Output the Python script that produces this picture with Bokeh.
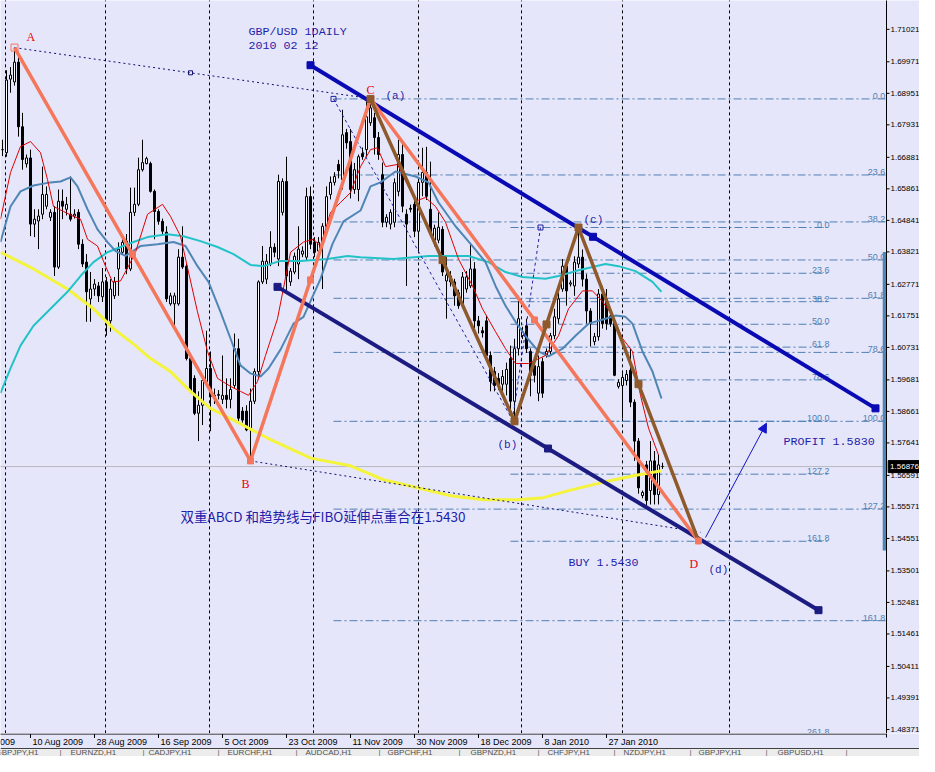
from bokeh.plotting import figure
from bokeh.models import Range1d, Arrow, NormalHead
from bokeh.layouts import column
from bokeh.embed import file_html
from bokeh.resources import INLINE
from bokeh.core.properties import value

# ---------------- data (GBP/USD daily, bar index 0 = 2 Aug 2009) ----------------
bar_idx = list(range(166))
opens = [1.6713,1.6703,1.6941,1.6932,1.6996,1.6787,1.6667,1.6686,1.6472,1.6482,
         1.6504,1.6530,1.6494,1.6510,1.6333,1.6546,1.6520,1.6504,1.6498,1.6510,
         1.6407,1.6349,1.6230,1.6262,1.6272,1.6237,1.6285,1.6159,1.6240,1.6327,
         1.6381,1.6417,1.6327,1.6510,1.6536,1.6648,1.6668,1.6668,1.6578,1.6513,
         1.6481,1.6446,1.6214,1.6214,1.6214,1.6365,1.6336,1.6037,1.5973,1.5860,
         1.5886,1.5963,1.6005,1.5918,1.5918,1.5905,1.5918,1.5905,1.5950,1.6069,
         1.5867,1.5867,1.5806,1.5899,1.5995,1.6285,1.6294,1.6343,1.6397,1.6359,
         1.6510,1.6610,1.6285,1.6317,1.6343,1.6375,1.6365,1.6561,1.6413,1.6385,
         1.6407,1.6465,1.6568,1.6607,1.6665,1.6616,1.6768,1.6739,1.6584,1.6584,
         1.6700,1.6713,1.6800,1.6816,1.6752,1.6632,1.6478,1.6472,1.6478,1.6578,
         1.6697,1.6504,1.6523,1.6536,1.6449,1.6607,1.6639,1.6520,1.6420,1.6420,
         1.6455,1.6288,1.6304,1.6285,1.6250,1.6214,1.6262,1.6272,1.6327,1.6159,
         1.6127,1.6159,1.6047,1.5995,1.5973,1.5954,1.5954,1.6037,1.5899,1.6069,
         1.6111,1.6143,1.6060,1.6014,1.5925,1.6027,1.6047,1.6060,1.6111,1.6166,
         1.6262,1.6336,1.6278,1.6272,1.6343,1.6365,1.6294,1.6191,1.6092,1.6108,
         1.6246,1.6230,1.6175,1.6156,1.5947,1.5950,1.5966,1.5999,1.5896,1.5770,
         1.5594,1.5693,1.5610,1.5706,1.5597,1.5688]
highs = [1.6745,1.6970,1.6980,1.7043,1.7030,1.6832,1.6697,1.6713,1.6520,1.6520,
         1.6658,1.6594,1.6520,1.6530,1.6584,1.6584,1.6560,1.6626,1.6520,1.6520,
         1.6423,1.6375,1.6317,1.6294,1.6285,1.6330,1.6301,1.6294,1.6301,1.6413,
         1.6430,1.6440,1.6590,1.6590,1.6687,1.6745,1.6690,1.6674,1.6584,1.6520,
         1.6490,1.6465,1.6250,1.6250,1.6391,1.6465,1.6343,1.6050,1.5983,1.5931,
         1.5973,1.6127,1.6060,1.5940,1.5935,1.6047,1.5973,1.5973,1.6118,1.6101,
         1.5880,1.5886,1.5940,1.6005,1.6290,1.6401,1.6375,1.6449,1.6410,1.6632,
         1.6620,1.6690,1.6330,1.6380,1.6465,1.6400,1.6590,1.6594,1.6430,1.6430,
         1.6475,1.6594,1.6626,1.6640,1.6680,1.6842,1.6780,1.6780,1.6670,1.6697,
         1.6720,1.6874,1.6877,1.6832,1.6770,1.6671,1.6504,1.6520,1.6620,1.6745,
         1.6735,1.6520,1.6535,1.6550,1.6620,1.6719,1.6722,1.6674,1.6470,1.6510,
         1.6465,1.6368,1.6320,1.6295,1.6260,1.6317,1.6320,1.6407,1.6349,1.6175,
         1.6140,1.6175,1.6060,1.6010,1.5990,1.6000,1.6024,1.6079,1.6101,1.6240,
         1.6140,1.6166,1.6070,1.6030,1.6047,1.6040,1.6070,1.6120,1.6198,1.6250,
         1.6359,1.6349,1.6290,1.6368,1.6461,1.6390,1.6310,1.6200,1.6120,1.6262,
         1.6272,1.6262,1.6190,1.6166,1.5970,1.5990,1.6000,1.6069,1.5905,1.5780,
         1.5610,1.5706,1.5770,1.5738,1.5725,1.5700]
lows = [1.6692,1.6690,1.6897,1.6920,1.6755,1.6648,1.6655,1.6433,1.6430,1.6391,
        1.6488,1.6520,1.6482,1.6304,1.6327,1.6488,1.6500,1.6481,1.6490,1.6391,
        1.6333,1.6156,1.6156,1.6240,1.6220,1.6220,1.6111,1.6124,1.6230,1.6240,
        1.6375,1.6310,1.6320,1.6498,1.6530,1.6642,1.6665,1.6574,1.6423,1.6470,
        1.6440,1.6220,1.6208,1.6134,1.6208,1.6327,1.6031,1.5925,1.5854,1.5770,
        1.5822,1.5950,1.5802,1.5890,1.5905,1.5890,1.5876,1.5876,1.5940,1.5835,
        1.5830,1.5802,1.5706,1.5890,1.5973,1.6278,1.6278,1.6336,1.6365,1.6336,
        1.6500,1.6253,1.6272,1.6310,1.6294,1.6365,1.6355,1.6391,1.6365,1.6375,
        1.6262,1.6455,1.6552,1.6597,1.6620,1.6584,1.6716,1.6555,1.6570,1.6546,
        1.6680,1.6690,1.6790,1.6697,1.6680,1.6462,1.6462,1.6455,1.6462,1.6562,
        1.6510,1.6272,1.6510,1.6430,1.6382,1.6562,1.6550,1.6440,1.6400,1.6410,
        1.6304,1.6166,1.6270,1.6208,1.6198,1.6200,1.6250,1.6265,1.6134,1.6118,
        1.6105,1.6027,1.5931,1.5931,1.5935,1.5931,1.5918,1.5854,1.5834,1.6047,
        1.6100,1.6055,1.5915,1.5960,1.5899,1.5910,1.6040,1.6050,1.6100,1.6150,
        1.6253,1.6208,1.6270,1.6240,1.6330,1.6270,1.6150,1.6076,1.6080,1.6095,
        1.6134,1.6130,1.6140,1.5980,1.5940,1.5844,1.5950,1.5880,1.5706,1.5600,
        1.5585,1.5562,1.5565,1.5565,1.5565,1.5680]
closes = [1.6713,1.6938,1.6954,1.6996,1.6787,1.6681,1.6686,1.6472,1.6488,1.6498,
          1.6568,1.6568,1.6510,1.6333,1.6546,1.6530,1.6536,1.6488,1.6504,1.6407,
          1.6343,1.6253,1.6262,1.6278,1.6240,1.6285,1.6159,1.6262,1.6285,1.6391,
          1.6413,1.6327,1.6510,1.6536,1.6648,1.6671,1.6684,1.6578,1.6513,1.6481,
          1.6449,1.6230,1.6240,1.6240,1.6365,1.6333,1.6037,1.5931,1.5860,1.5886,
          1.5966,1.6005,1.5915,1.5915,1.5921,1.5918,1.5905,1.5937,1.6069,1.5844,
          1.5838,1.5806,1.5899,1.5995,1.6285,1.6352,1.6352,1.6397,1.6381,1.6610,
          1.6610,1.6304,1.6320,1.6368,1.6391,1.6385,1.6561,1.6407,1.6381,1.6413,
          1.6465,1.6561,1.6607,1.6626,1.6645,1.6761,1.6735,1.6584,1.6648,1.6690,
          1.6690,1.6819,1.6848,1.6752,1.6697,1.6478,1.6494,1.6510,1.6606,1.6697,
          1.6530,1.6472,1.6520,1.6449,1.6607,1.6639,1.6562,1.6446,1.6459,1.6462,
          1.6317,1.6307,1.6285,1.6240,1.6208,1.6301,1.6301,1.6327,1.6159,1.6143,
          1.6120,1.6047,1.5963,1.5950,1.5950,1.5979,1.6002,1.5899,1.6069,1.6166,
          1.6124,1.6069,1.5983,1.5983,1.6011,1.5925,1.6060,1.6111,1.6172,1.6230,
          1.6336,1.6256,1.6282,1.6349,1.6365,1.6294,1.6191,1.6150,1.6108,1.6246,
          1.6150,1.6150,1.6150,1.5983,1.5960,1.5976,1.5986,1.5896,1.5770,1.5619,
          1.5604,1.5578,1.5706,1.5597,1.5693,1.5688]

date_tick_idx = [-9, 7, 23, 39, 55, 71, 87, 103, 119, 135, 151]
date_tick_lbl = ["22 Jul 2009", "10 Aug 2009", "28 Aug 2009", "16 Sep 2009", "5 Oct 2009",
                 "23 Oct 2009", "11 Nov 2009", "30 Nov 2009", "18 Dec 2009", "8 Jan 2010",
                 "27 Jan 2010"]
month_idx = [0.75, 25.75, 51.75, 77.75, 104, 129.75, 155, 181.75]
price_ticks = [1.71021, 1.69971, 1.68951, 1.67931, 1.66881, 1.65861, 1.64841, 1.63821,
               1.62771, 1.61751, 1.60731, 1.59681, 1.58661, 1.57641, 1.56591, 1.55571,
               1.54551, 1.53501, 1.52481, 1.51461, 1.50411, 1.49391, 1.48371]
price_tick_lbl = ["%.5f" % v for v in price_ticks]
last_price = 1.56876

# moving averages
ma_red_x = [-0.5, 2, 4.5, 7, 9.5, 11.25, 12.75, 15.25, 17.75, 19.5, 21.25, 23.75, 25.75, 27.5,
            29.5, 31.5, 33.25, 36.25, 40, 42, 44.5, 46.5, 48.75, 51.25, 53.75, 57, 59.5, 61.5,
            63.75, 65.75, 68.75, 72, 75.25, 77.75, 79.5, 82, 84.5, 87, 89.5, 92, 93.75, 95.75,
            98.75, 103.25, 105.75, 108.25, 110.75, 114, 117.5, 120, 123.25, 125.75, 128.25,
            131.5, 135.75, 139, 141.5, 145, 147.5, 150, 152.5, 155, 157.5, 159.5, 161.5, 164]
ma_red_y = [1.6488, 1.6639, 1.6723, 1.6739, 1.6703, 1.6616, 1.6529, 1.6513, 1.6497, 1.6488,
            1.6423, 1.6401, 1.6336, 1.6285, 1.6288, 1.6336, 1.6381, 1.6504, 1.6536, 1.6497,
            1.6433, 1.6317, 1.6188, 1.6060, 1.5973, 1.5947, 1.5931, 1.5918, 1.5963, 1.6047,
            1.6166, 1.6381, 1.6414, 1.6423, 1.6401, 1.6510, 1.6542, 1.6574, 1.6658, 1.6713,
            1.6719, 1.6658, 1.6665, 1.6546, 1.6558, 1.6529, 1.6478, 1.6359, 1.6272, 1.6198,
            1.6124, 1.6069, 1.6021, 1.6021, 1.6047, 1.6111, 1.6198, 1.6256, 1.6256, 1.6221,
            1.6176, 1.6102, 1.6060, 1.5918, 1.5812, 1.5725]
ma_blue_x = [-0.5, 2, 4.5, 7.75, 12, 14.5, 17, 18.75, 21.25, 23.75, 26.25, 28.25, 30.75, 34.5,
             38.75, 42.75, 45.75, 48.75, 51.5, 54.5, 57, 59.5, 62, 64.5, 66.5, 69.5, 72.75,
             75.25, 79.5, 82.5, 85.25, 89.5, 92, 94.5, 98.25, 103.25, 106.5, 109, 113.25,
             117.5, 120.75, 123.25, 125.75, 128.25, 131.25, 134, 136.5, 140, 143.25, 146.5,
             150.75, 153.25, 155.75, 157.5, 160, 162.5, 164.75]
ma_blue_y = [1.6414, 1.6529, 1.6578, 1.6597, 1.6607, 1.6610, 1.6623, 1.6594, 1.6520, 1.6455,
             1.6414, 1.6385, 1.6369, 1.6401, 1.6407, 1.6414, 1.6401, 1.6336, 1.6285, 1.6188,
             1.6102, 1.6015, 1.5989, 1.5979, 1.6005, 1.6066, 1.6150, 1.6172, 1.6295, 1.6408,
             1.6481, 1.6516, 1.6594, 1.6607, 1.6642, 1.6626, 1.6607, 1.6542, 1.6465, 1.6401,
             1.6349, 1.6272, 1.6208, 1.6156, 1.6102, 1.6060, 1.6044, 1.6069, 1.6111, 1.6150,
             1.6166, 1.6176, 1.6172, 1.6150, 1.6060, 1.5995, 1.5908]
ma_cyan_x = [-0.5, 2, 4.5, 7.75, 12, 16.25, 19.5, 22.75, 26.25, 29.5, 32.75, 36.25, 41.25,
             45.25, 49.5, 53.75, 57.75, 62, 65.25, 69.5, 74.5, 81.25, 86.25, 89.5, 97.75,
             106.5, 116.5, 121.5, 125.75, 130, 135.75, 139, 143.25, 147.5, 150.75, 154,
             158.25, 162.5, 164.75]
ma_cyan_y = [1.5925, 1.6005, 1.6079, 1.6143, 1.6198, 1.6253, 1.6304, 1.6349, 1.6381, 1.6398,
             1.6414, 1.6430, 1.6439, 1.6433, 1.6417, 1.6398, 1.6375, 1.6340, 1.6336, 1.6353,
             1.6353, 1.6359, 1.6369, 1.6365, 1.6359, 1.6369, 1.6369, 1.6349, 1.6317, 1.6301,
             1.6295, 1.6304, 1.6320, 1.6333, 1.6343, 1.6336, 1.6320, 1.6285, 1.6253]
ma_yellow_x = [-0.5, 7.75, 16.25, 22.75, 27.75, 33.25, 37, 42, 47, 52, 57.75, 66.25, 77, 87,
               95.25, 103.75, 112, 120.25, 128.75, 135.25, 141.25, 149.5, 157.75, 164.75]
ma_yellow_y = [1.6381, 1.6327, 1.6262, 1.6198, 1.6134, 1.6079, 1.6037, 1.5995, 1.5931, 1.5876,
               1.5838, 1.5780, 1.5715, 1.5690, 1.5645, 1.5619, 1.5593, 1.5580, 1.5580, 1.5587,
               1.5609, 1.5635, 1.5658, 1.5674]

# drawn objects (anchors as bar index / price)
abcd_x = [3, 62, 92, 174]
abcd_y = [1.7043, 1.5706, 1.6877, 1.5447]
abcd2_x = [92, 128, 144, 174]
abcd2_y = [1.6877, 1.5834, 1.6461, 1.5447]
chan_up_x = [77, 218.25]
chan_up_y = [1.6986, 1.5876]
chan_lo_x = [68.75, 204]
chan_lo_y = [1.6269, 1.5223]
dash_ac_x = [3, 91]
dash_ac_y = [1.7043, 1.6880]
dash_bd_x = [62, 174.5]
dash_bd_y = [1.5706, 1.5475]
thin_1_x = [82.75, 127.5]
thin_1_y = [1.6877, 1.5838]
thin_2_x = [127.5, 134.5]
thin_2_y = [1.5838, 1.6461]
fib1_start, fib1_end = 82.75, 221.0
fib1_lbl = ["0.0", "23.6", "38.2", "50.0", "61.8", "78.6", "100.0", "127.2", "161.8"]
fib1_px = [1.6877, 1.6631, 1.6479, 1.6356, 1.6232, 1.6057, 1.5834, 1.5550, 1.5189]
fib2_start, fib2_end = 127.0, 206.75
fib2_lbl = ["0.0", "23.6", "38.2", "50.0", "61.8", "78.6", "100.0", "127.2", "161.8", "261.8"]
fib2_px = [1.6461, 1.6313, 1.6221, 1.6148, 1.6074, 1.5968, 1.5834, 1.5663, 1.5446, 1.4820]
profit_arrow = (175.75, 1.5458, 191.0, 1.5828)
side_bar_y = (1.6382, 1.5416)
tabs = ["GBPJPY,H1", "EURNZD,H1", "CADJPY,H1", "EURCHF,H1", "AUDCAD,H1", "GBPCHF,H1",
        "GBPNZD,H1", "CHFJPY,H1", "NZDJPY,H1", "GBPJPY,H1", "GBPUSD,H1"]

# ---------------- main chart ----------------
BG = "#E6E6FA"
XR = Range1d(-0.5, 229.25)          # 4 px per bar over 919 px
AXIS_X = 221.0                      # price-scale line position (bar units)
p = figure(width=919, height=733, x_range=XR, y_range=Range1d(1.48241, 1.71954),
           output_backend="svg", toolbar_location=None, x_axis_location=None,
           y_axis_location=None, min_border=0)
p.background_fill_color = BG
p.border_fill_color = BG
p.outline_line_color = None
p.grid.visible = False

# month separators
p.segment(x0=month_idx, x1=month_idx, y0=[1.3] * len(month_idx), y1=[1.8] * len(month_idx),
          line_color="black", line_width=1, line_dash="3 3")

# fibonacci levels
FIB = "#4F7FB3"
n1 = len(fib1_px)
p.segment(x0=[fib1_start] * n1, x1=[fib1_end] * n1, y0=fib1_px, y1=fib1_px,
          line_color=FIB, line_width=1, line_dash="8 3 2 3")
p.text(x=[AXIS_X - 0.3] * n1, y=fib1_px, text=fib1_lbl, text_align="right", text_baseline="bottom",
       text_font=value("Liberation Sans"), text_font_size="9px", text_color=FIB)
n2 = len(fib2_px)
p.segment(x0=[fib2_start] * n2, x1=[fib2_end] * n2, y0=fib2_px, y1=fib2_px,
          line_color=FIB, line_width=1, line_dash="8 3 2 3")
p.text(x=[fib2_end] * n2, y=fib2_px, text=fib2_lbl, text_align="right", text_baseline="bottom",
       text_font=value("Liberation Sans"), text_font_size="9px", text_color=FIB)

# current price line
p.segment(x0=[-1], x1=[AXIS_X], y0=[last_price], y1=[last_price], line_color="#B8B8C0", line_width=1)

# candles
body_top = [max(o, c) for o, c in zip(opens, closes)]
body_bot = [min(o, c) for o, c in zip(opens, closes)]
body_fill = ["white" if c >= o else "black" for o, c in zip(opens, closes)]
p.segment(x0=bar_idx, x1=bar_idx, y0=lows, y1=highs, line_color="black", line_width=1)
p.vbar(x=bar_idx, width=0.5, top=body_top, bottom=body_bot, fill_color=body_fill,
       line_color="black", line_width=1)

# moving averages
p.line(ma_yellow_x, ma_yellow_y, line_color="#F4F43C", line_width=3)
p.line(ma_cyan_x, ma_cyan_y, line_color="#22C3C8", line_width=2)
p.line(ma_blue_x, ma_blue_y, line_color="#4F86B5", line_width=2)
p.line(ma_red_x, ma_red_y, line_color="#E00000", line_width=1)

# dashed helper lines
NAVY_T = "#101070"
p.line(dash_ac_x, dash_ac_y, line_color=NAVY_T, line_width=1, line_dash="2 3")
p.line(dash_bd_x, dash_bd_y, line_color=NAVY_T, line_width=1, line_dash="2 3")
p.line(thin_1_x, thin_1_y, line_color="#2020A0", line_width=1, line_dash="3 3")
p.line(thin_2_x, thin_2_y, line_color="#2020A0", line_width=1, line_dash="3 3")
p.scatter([(dash_ac_x[0] + dash_ac_x[1]) / 2], [(dash_ac_y[0] + dash_ac_y[1]) / 2],
          marker="square", size=4, fill_color=None, line_color=NAVY_T)
p.scatter([thin_1_x[0], thin_2_x[1]], [thin_1_y[0], thin_2_y[1]], marker="square", size=5,
          fill_color=None, line_color="#2020A0")

# channels
UP = "#0A0AB4"
LO = "#1B1B82"
p.line(chan_up_x, chan_up_y, line_color=UP, line_width=4)
p.line(chan_lo_x, chan_lo_y, line_color=LO, line_width=4)
p.scatter([chan_up_x[0], sum(chan_up_x) / 2, chan_up_x[1]],
          [chan_up_y[0], sum(chan_up_y) / 2, chan_up_y[1]], marker="square", size=7,
          fill_color=UP, line_color=UP)
p.scatter([chan_lo_x[0], sum(chan_lo_x) / 2, chan_lo_x[1]],
          [chan_lo_y[0], sum(chan_lo_y) / 2, chan_lo_y[1]], marker="square", size=7,
          fill_color=LO, line_color=LO)

# ABCD zigzags
SAL = "#F5775B"
BRN = "#8E5A2C"
p.line(abcd_x, abcd_y, line_color=SAL, line_width=3.5)
p.line(abcd2_x, abcd2_y, line_color=BRN, line_width=3.5)
mid_sx = [(abcd_x[k] + abcd_x[k + 1]) / 2 for k in range(3)]
mid_sy = [(abcd_y[k] + abcd_y[k + 1]) / 2 for k in range(3)]
p.scatter(mid_sx + abcd_x[1:2] + abcd_x[3:], mid_sy + abcd_y[1:2] + abcd_y[3:], marker="square",
          size=6, fill_color=SAL, line_color=SAL)
p.scatter(abcd_x[:1], abcd_y[:1], marker="square", size=7, fill_color=None, line_color=SAL)
mid_bx = [(abcd2_x[k] + abcd2_x[k + 1]) / 2 for k in range(3)]
mid_by = [(abcd2_y[k] + abcd2_y[k + 1]) / 2 for k in range(3)]
p.scatter(mid_bx + abcd2_x[:3], mid_by + abcd2_y[:3], marker="square", size=7,
          fill_color=BRN, line_color=BRN)

# profit arrow
p.add_layout(Arrow(end=NormalHead(size=9, fill_color="#1414C8", line_color="#1414C8"),
                   x_start=profit_arrow[0], y_start=profit_arrow[1],
                   x_end=profit_arrow[2], y_end=profit_arrow[3],
                   line_color="#1414C8", line_width=1))

# texts
TXT = "#1E1EAA"
p.text(x=[61.5, 61.5, 141.5, 195.25], y=[1.70924, 1.70490, 1.53759, 1.57668],
       text=["GBP/USD 1DAILY", "2010 02 12", "BUY  1.5430", "PROFIT 1.5830"],
       text_font=value("Liberation Mono"), text_font_size="11.7px", text_color=TXT,
       text_align="left", text_baseline="middle")
p.text(x=[44.5], y=[1.55271], text=["双重ABCD 和趋势线与FIBO延伸点重合在1.5430"],
       text_font=value("Noto Sans CJK SC"), text_font_size="13.5px", text_color=TXT,
       text_align="left", text_baseline="middle")
p.text(x=[6.0, 59.75, 91.0, 171.75], y=[1.70764, 1.56317, 1.69058, 1.53711],
       text=["A", "B", "C", "D"], text_font=value("Liberation Serif"), text_font_size="12px",
       text_color="#EE0000", text_align="left", text_baseline="middle")
p.text(x=[95.75, 123.75, 145.25, 176.5], y=[1.68849, 1.57572, 1.64860, 1.53518],
       text=["(a)", "(b)", "(c)", "(d)"], text_font=value("Liberation Mono"),
       text_font_size="11px", text_color=TXT, text_align="left", text_baseline="middle")

# price scale (drawn on the chart's own y scale)
p.segment(x0=[AXIS_X - 0.45], x1=[AXIS_X - 0.45], y0=[side_bar_y[0]], y1=[side_bar_y[1]],
          line_color="#4F86B5", line_width=4)
p.segment(x0=[AXIS_X], x1=[AXIS_X], y0=[1.3], y1=[1.8], line_color="black", line_width=1)
nt = len(price_ticks)
p.segment(x0=[AXIS_X] * nt, x1=[AXIS_X + 0.75] * nt, y0=price_ticks, y1=price_ticks,
          line_color="black", line_width=1)
p.text(x=[AXIS_X + 1.0] * nt, y=price_ticks, text=price_tick_lbl, text_align="left",
       text_baseline="middle", text_font=value("Liberation Sans"), text_font_size="8px",
       text_color="black")
p.rect(x=[AXIS_X + 4.3], y=[last_price], width=31, height=12, width_units="screen",
       height_units="screen", fill_color="black", line_color="black")
p.text(x=[AXIS_X + 0.9], y=[last_price], text=["%.5f" % last_price], text_align="left",
       text_baseline="middle", text_font=value("Liberation Sans"), text_font_size="8px",
       text_color="white")

# ---------------- time scale + symbol tabs strip ----------------
tab_px = [-5, 70, 148, 227, 305, 387, 470, 547, 623, 698, 777]
sep_px = [59, 142, 217, 295, 378, 458, 537, 613, 689, 765, 845]
t = figure(width=919, height=23, x_range=XR, y_range=Range1d(0, 23),
           output_backend="svg", toolbar_location=None, min_border=0,
           x_axis_location=None, y_axis_location=None)
t.extra_x_ranges = {"px": Range1d(0, 919)}
t.background_fill_color = BG
t.border_fill_color = BG
t.outline_line_color = None
t.grid.visible = False
t.segment(x0=[-1], x1=[AXIS_X], y0=[22.5], y1=[22.5], line_color="black", line_width=1)
t.segment(x0=[AXIS_X], x1=[AXIS_X], y0=[19], y1=[23], line_color="black", line_width=1)
nd = len(date_tick_idx)
t.segment(x0=date_tick_idx, x1=date_tick_idx, y0=[22.5] * nd, y1=[18.5] * nd,
          line_color="black", line_width=1)
t.text(x=[d + 0.5 for d in date_tick_idx], y=[14.3] * nd, text=date_tick_lbl,
       text_font=value("Liberation Sans"), text_font_size="9px", text_color="black",
       text_align="left", text_baseline="middle")
t.quad(left=[0], right=[919], bottom=[-1], top=[8], fill_color="#ECECEC", line_color=None,
       x_range_name="px")
t.segment(x0=[0], x1=[919], y0=[8], y1=[8], line_color="#404040", line_width=1,
          x_range_name="px")
t.text(x=tab_px, y=[3.8] * len(tab_px), text=tabs, text_font=value("Liberation Sans"),
       text_font_size="8px", text_color="#505050", text_align="left", text_baseline="middle",
       x_range_name="px")
t.text(x=sep_px, y=[3.8] * len(sep_px), text=["|"] * len(sep_px),
       text_font=value("Liberation Sans"), text_font_size="8px", text_color="#606060",
       text_align="left", text_baseline="middle", x_range_name="px")

layout = column(p, t, spacing=0)
open("out.html", "w").write(file_html(layout, INLINE))
